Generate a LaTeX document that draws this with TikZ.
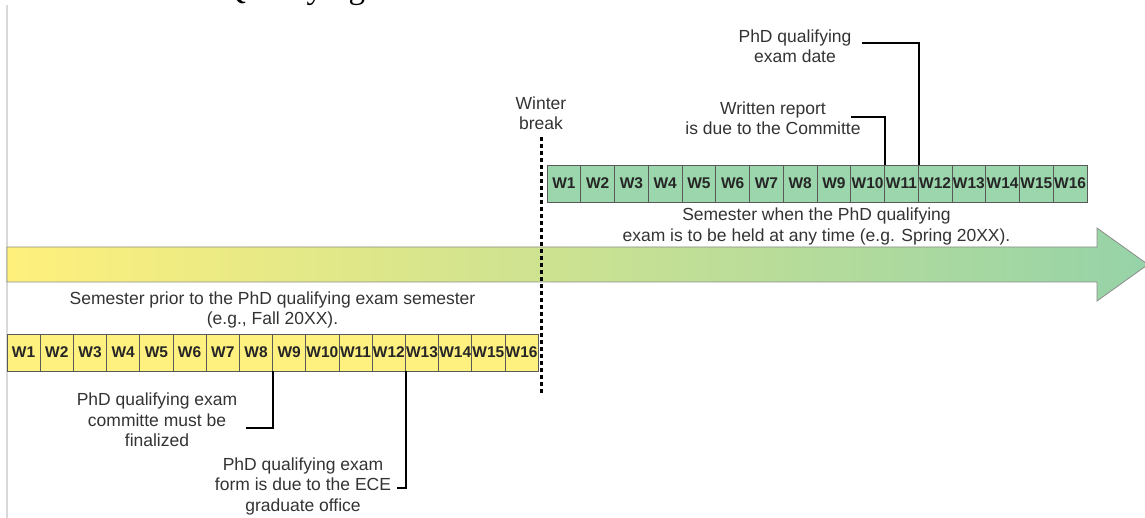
\documentclass[tikz,border=0pt]{standalone}
\usepackage{fontspec}
\setmainfont{Liberation Sans}
\newfontfamily\titlefont{Liberation Serif}
\definecolor{fallyellow}{RGB}{255,241,128}
\definecolor{springgreen}{RGB}{155,214,172}
\definecolor{arrowyellow}{RGB}{255,240,124}
\definecolor{arrowmid}{RGB}{218,233,152}
\definecolor{arrowgreen}{RGB}{150,211,168}
\tikzset{
  week/.style={draw=black!65,line width=0.8pt,minimum width=#1,minimum height=37pt,
    inner sep=0pt,font=\fontsize{15.5}{18}\selectfont\bfseries,text=black!85},
  note/.style={align=center,inner sep=0pt,font=\fontsize{17.5}{20.5}\selectfont,text=black!80},
  leader/.style={line width=2pt},
}
\begin{document}
\begin{tikzpicture}[x=1pt,y=-1pt]
  \useasboundingbox (0,0) rectangle (1145,518);
  \clip (0,0) rectangle (1145,518);
  \node[font=\titlefont\fontsize{33}{36}\selectfont,anchor=base west,inner sep=0pt]
    (title) at (222,-1) {Qualifying};
  \draw[black!15,line width=1.5pt] (7,5) -- (7,518);
  % time arrow
  \shadedraw[draw=black!45,line width=0.8pt,left color=arrowyellow,middle color=arrowmid,
    right color=arrowgreen] (7,247) -- (1097,247) -- (1097,228) -- (1148,264.5)
    -- (1097,301) -- (1097,282) -- (7,282) -- cycle;
  % winter break
  \node[note] (winter) at (541,113) {Winter\\break};
  \draw[line width=3pt,dash pattern=on 4pt off 3pt] (winter.south) ++(0,7) -- (541,394);
  % fall semester weeks
  \foreach \i in {1,...,16}
    \node[week=33.2pt,fill=fallyellow] (fw\i) at ({7+33.2*(\i-0.5)},352.5) {W\i};
  \node[note] (fall) at (272.5,310) {Semester prior to the PhD qualifying exam semester\\(e.g., Fall 20XX).};
  \node[note] (commit) at (157,420) {PhD qualifying exam\\committe must be\\finalized};
  \node[note] (form) at (303,486) {PhD qualifying exam\\form is due to the ECE\\graduate office};
  \coordinate (commitend) at (246,428);
  \coordinate (formend) at (397,488);
  \draw[leader] (fw8.south east) |- (commitend);
  \draw[leader] (fw12.south east) |- (formend);
  % spring semester weeks
  \foreach \i in {1,...,16}
    \node[week=33.75pt,fill=springgreen] (sw\i) at ({547+33.75*(\i-0.5)},183.5) {W\i};
  \node[note] (spring) at (816.5,226.5) {Semester when the PhD qualifying\\exam is to be held at any time (e.g. Spring 20XX).};
  \node[note] (report) at (773,118) {Written report\\is due to the Committe};
  \node[note] (date) at (795,46) {PhD qualifying\\exam date};
  \coordinate (reportend) at (851,117);
  \coordinate (dateend) at (862,43);
  \draw[leader] (sw10.north east) |- (reportend);
  \draw[leader] (sw11.north east) |- (dateend);
\end{tikzpicture}
\end{document}
